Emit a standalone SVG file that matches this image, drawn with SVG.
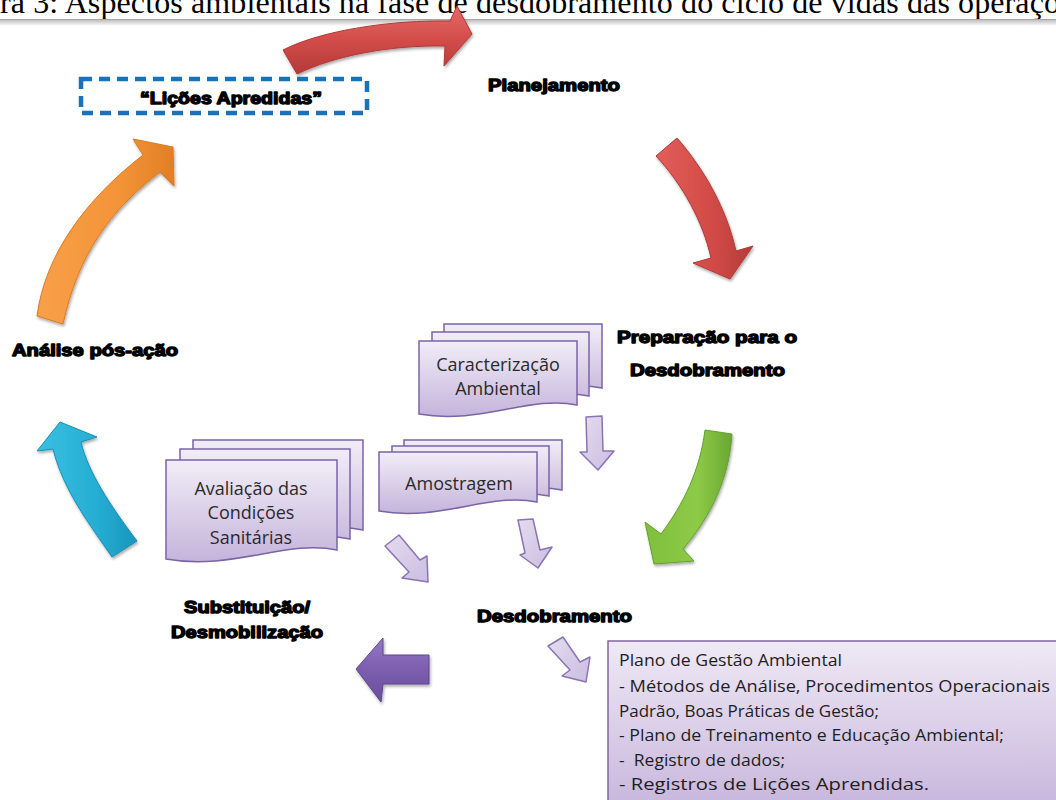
<svg xmlns="http://www.w3.org/2000/svg" width="1056" height="800" viewBox="0 0 1056 800">
  <style>
    .cap { font-family: "Liberation Serif", "Times New Roman", serif; font-size: 32px; fill: #000; }
    .lbl { font-family: "Liberation Sans", Arial, sans-serif; font-weight: bold; font-size: 17px; fill: #000; stroke: #000; stroke-width: 1.4; stroke-linejoin: round; }
    .doc { stroke: #7a64a6; stroke-width: 1.5; fill: url(#docFill); }
    .dtx { font-family: "Open Sans", "Noto Sans", sans-serif; font-size: 18px; fill: #2a2a2a; text-anchor: middle; }
    .ptx { font-family: "Open Sans", "Noto Sans", sans-serif; font-size: 16px; fill: #1e1e1e; }
    .small { fill: url(#smallFill); stroke: #8a74b4; stroke-width: 1.5; stroke-linejoin: round; }
    .cyc { filter: url(#soft); stroke-linejoin: round; stroke-width: 1; }
  </style>
  <defs>
    <linearGradient id="docFill" x1="0" y1="0" x2="0" y2="1">
      <stop offset="0" stop-color="#f1edf7"/>
      <stop offset="1" stop-color="#c5b4db"/>
    </linearGradient>
    <linearGradient id="boxFill" x1="0" y1="0" x2="0" y2="1">
      <stop offset="0" stop-color="#efe9f5"/>
      <stop offset="1" stop-color="#c7b5dc"/>
    </linearGradient>
    <linearGradient id="smallFill" x1="0" y1="0" x2="1" y2="1">
      <stop offset="0" stop-color="#e4dcef"/>
      <stop offset="1" stop-color="#cbbde0"/>
    </linearGradient>
    <linearGradient id="ruleShade" x1="0" y1="0" x2="0" y2="1">
      <stop offset="0" stop-color="#b4b4b4"/>
      <stop offset="1" stop-color="#ffffff"/>
    </linearGradient>
    <linearGradient id="red" x1="0" y1="0" x2="0" y2="1">
      <stop offset="0" stop-color="#e56a66"/>
      <stop offset="0.5" stop-color="#d24c49"/>
      <stop offset="1" stop-color="#b33a38"/>
    </linearGradient>
    <linearGradient id="red2" x1="0" y1="0" x2="1" y2="0">
      <stop offset="0" stop-color="#e25e5a"/>
      <stop offset="0.6" stop-color="#d14a47"/>
      <stop offset="1" stop-color="#b53b39"/>
    </linearGradient>
    <linearGradient id="green" x1="0" y1="0" x2="1" y2="0">
      <stop offset="0" stop-color="#7fbf3e"/>
      <stop offset="0.6" stop-color="#8dca47"/>
      <stop offset="1" stop-color="#6aa733"/>
    </linearGradient>
    <linearGradient id="cyan" x1="0" y1="0" x2="1" y2="0">
      <stop offset="0" stop-color="#38c0e0"/>
      <stop offset="0.6" stop-color="#25aed4"/>
      <stop offset="1" stop-color="#1a95bd"/>
    </linearGradient>
    <linearGradient id="orange" x1="0" y1="0" x2="1" y2="0">
      <stop offset="0" stop-color="#f8a04a"/>
      <stop offset="0.6" stop-color="#f39437"/>
      <stop offset="1" stop-color="#e17f25"/>
    </linearGradient>
    <linearGradient id="violet" x1="0" y1="0" x2="0" y2="1">
      <stop offset="0" stop-color="#9478c4"/>
      <stop offset="0.5" stop-color="#7c5daf"/>
      <stop offset="1" stop-color="#6a4d9b"/>
    </linearGradient>
    <filter id="soft" x="-20%" y="-20%" width="140%" height="140%">
      <feGaussianBlur in="SourceAlpha" stdDeviation="1.5"/>
      <feOffset dx="1" dy="1.5" result="b"/>
      <feComponentTransfer><feFuncA type="linear" slope="0.35"/></feComponentTransfer>
      <feMerge><feMergeNode/><feMergeNode in="SourceGraphic"/></feMerge>
    </filter>
  </defs>

  <rect width="1056" height="800" fill="#ffffff"/>

  <!-- caption strip with its rule -->
  <g id="caption">
    <text class="cap" x="0" y="13" textLength="1060" lengthAdjust="spacing">ra 3: Aspectos ambientais na fase de desdobramento do ciclo de vidas das operaçõ</text>
    <rect x="0" y="19" width="1056" height="7" fill="url(#ruleShade)"/>
    <line x1="0" y1="19.5" x2="1056" y2="19.5" stroke="#a8a8a8" stroke-width="1.2"/>
  </g>

  <!-- cycle arrows and small flow arrows -->
  <g id="connectors">
    <path class="cyc" fill="url(#red)" stroke="#b03937" d="M283,50 C322,30 392,20 450,21 L457,6 L472,34 L444,66 L445,46 C392,45 336,55 297,74 Z"/>
    <path class="cyc" fill="url(#red2)" stroke="#b03937" d="M656,156 L677,138 C705,170 727,210 736,251 L753,246 L730,279 L693,263 L711,258 C703,222 683,185 656,156 Z"/>
    <path class="cyc" fill="url(#green)" stroke="#63a030" d="M705,430 L732,434 C729,478 712,515 683,549 L694,561 L654,564 L645,522 L661,534 C684,503 700,470 705,430 Z"/>
    <path class="cyc" fill="url(#violet)" stroke="#5f4690" d="M356,669 L383,638 L383,655 L429,655 L429,684 L383,684 L381,702 Z"/>
    <path class="cyc" fill="url(#cyan)" stroke="#1a8fb6" d="M112,557 C90,525 63,490 53,449 L37,451 L60,422 L97,437 L81,442 C88,472 110,505 137,541 Z"/>
    <path class="cyc" fill="url(#orange)" stroke="#dc7a22" d="M37,316 C45,255 85,200 143,155 L133,139 L173,147 L174,186 L160,172 C110,210 78,255 63,324 Z"/>

    <path class="small" d="M586,417 L602,416 L603,451 L614,451 L598,470 L580,452 L587,452 Z"/>
    <path class="small" d="M518,520 L533,519 L540,550 L552,547 L538,568 L520,555 L525,553 Z"/>
    <path class="small" d="M385,546 L399,535 L420,560 L427,556 L428,582 L402,578 L409,572 Z"/>
    <path class="small" d="M548,646 L563,637 L580,662 L590,657 L586,682 L562,676 L570,670 Z"/>
  </g>

  <!-- stage labels -->
  <g id="licoes">
    <rect x="81" y="79" width="286" height="34" fill="none" stroke="#1a72bb" stroke-width="4.5" stroke-dasharray="11 7"/>
    <text class="lbl" x="140" y="104" textLength="182" lengthAdjust="spacingAndGlyphs">“Lições Apredidas”</text>
  </g>
  <g id="planejamento">
    <text class="lbl" x="488" y="91" textLength="132" lengthAdjust="spacingAndGlyphs">Planejamento</text>
  </g>
  <g id="preparacao">
    <text class="lbl" x="617" y="343" textLength="180" lengthAdjust="spacingAndGlyphs">Preparação para o</text>
    <text class="lbl" x="630" y="376" textLength="155" lengthAdjust="spacingAndGlyphs">Desdobramento</text>
  </g>
  <g id="desdobramento">
    <text class="lbl" x="477" y="622" textLength="155" lengthAdjust="spacingAndGlyphs">Desdobramento</text>
  </g>
  <g id="substituicao">
    <text class="lbl" x="184" y="613" textLength="126" lengthAdjust="spacingAndGlyphs">Substituição/</text>
    <text class="lbl" x="171" y="638" textLength="152" lengthAdjust="spacingAndGlyphs">Desmobilização</text>
  </g>
  <g id="analise">
    <text class="lbl" x="12" y="356" textLength="166" lengthAdjust="spacingAndGlyphs">Análise pós-ação</text>
  </g>

  <!-- stacked document nodes -->
  <g id="caracterizacao">
    <path class="doc" d="M444,324 H602 V388 C555,378 505,408 444,397 Z"/>
    <path class="doc" d="M432,332 H589 V396 C542,386 492,416 432,405 Z"/>
    <path class="doc" d="M419,341 H577 V405 C530,395 480,425 419,414 Z"/>
    <text class="dtx" x="498" y="371">Caracterização</text>
    <text class="dtx" x="498" y="395">Ambiental</text>
  </g>
  <g id="amostragem">
    <path class="doc" d="M404,440 H562 V490 C515,480 465,510 404,499 Z"/>
    <path class="doc" d="M392,446 H549 V496 C502,486 452,516 392,505 Z"/>
    <path class="doc" d="M379,452 H537 V502 C490,492 440,522 379,511 Z"/>
    <text class="dtx" x="459" y="490">Amostragem</text>
  </g>
  <g id="avaliacao">
    <path class="doc" d="M193,440 H363 V530 C313,519 258,551 193,539 Z"/>
    <path class="doc" d="M180,449 H350 V539 C300,528 245,560 180,548 Z"/>
    <path class="doc" d="M166,460 H337 V550 C287,539 232,571 166,559 Z"/>
    <text class="dtx" x="251" y="495">Avaliação das</text>
    <text class="dtx" x="251" y="519">Condições</text>
    <text class="dtx" x="251" y="544">Sanitárias</text>
  </g>

  <!-- management plan box -->
  <g id="plano">
    <rect x="608" y="641" width="460" height="170" fill="url(#boxFill)" stroke="#8064a2" stroke-width="1.5"/>
    <text class="ptx" x="619" y="666" textLength="223" lengthAdjust="spacingAndGlyphs">Plano de Gestão Ambiental</text>
    <text class="ptx" x="619" y="692" textLength="431" lengthAdjust="spacingAndGlyphs">- Métodos de Análise, Procedimentos Operacionais</text>
    <text class="ptx" x="619" y="717" textLength="260" lengthAdjust="spacingAndGlyphs">Padrão, Boas Práticas de Gestão;</text>
    <text class="ptx" x="619" y="741" textLength="385" lengthAdjust="spacingAndGlyphs">- Plano de Treinamento e Educação Ambiental;</text>
    <text class="ptx" x="619" y="766" xml:space="preserve" textLength="166" lengthAdjust="spacingAndGlyphs">-  Registro de dados;</text>
    <text class="ptx" x="619" y="790" textLength="310" lengthAdjust="spacingAndGlyphs">- Registros de Lições Aprendidas.</text>
  </g>
</svg>
